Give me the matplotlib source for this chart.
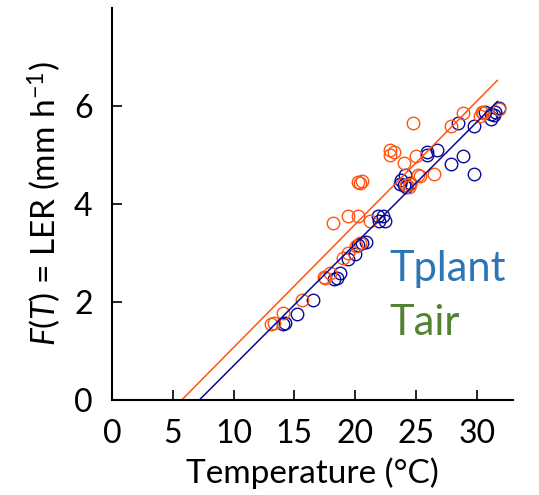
import matplotlib
matplotlib.use('Agg')
import matplotlib.pyplot as plt

plt.rcParams['font.family'] = ['Lato', 'DejaVu Sans']
plt.rcParams['mathtext.fontset'] = 'custom'
plt.rcParams['mathtext.rm'] = 'Lato'
plt.rcParams['mathtext.it'] = 'Lato:italic'

# Tair (orange) points
tair_x = [13.1, 13.3, 14.1, 15.65, 17.4, 17.5, 17.9, 19.0, 19.4, 20.1, 20.4, 18.15,
          19.4, 20.25, 21.2, 20.25, 20.4, 20.55, 22.85, 23.2, 22.85, 24.8, 24.0, 25.0,
          25.2, 25.3, 26.5, 24.2, 24.4, 24.5, 27.85, 28.9, 30.3, 30.4, 30.5, 31.8]
tair_y = [1.55, 1.58, 1.77, 2.04, 2.50, 2.49, 2.60, 2.89, 2.99, 3.15, 3.21, 3.61,
          3.76, 3.76, 3.66, 4.45, 4.43, 4.47, 5.11, 5.07, 5.00, 5.66, 4.83, 4.97,
          4.59, 4.57, 4.61, 4.39, 4.35, 4.41, 5.59, 5.85, 5.80, 5.88, 5.86, 5.93]

# Tplant (navy) points
tplant_x = [14.1, 14.2, 15.2, 16.5, 18.3, 18.5, 18.75, 19.4, 20.0, 20.25, 20.6, 20.9,
            21.9, 22.3, 22.45, 22.0, 24.1, 23.8, 24.0, 24.2, 24.5, 23.7, 25.9, 25.9,
            26.75, 27.9, 28.9, 29.8, 28.5, 29.8, 30.7, 31.2, 31.2, 31.4, 31.8, 31.5]
tplant_y = [1.55, 1.58, 1.76, 2.04, 2.46, 2.48, 2.60, 2.87, 2.98, 3.16, 3.20, 3.22,
            3.76, 3.76, 3.66, 3.66, 4.59, 4.49, 4.39, 4.35, 4.43, 4.41, 5.07, 5.00,
            5.10, 4.82, 4.97, 4.61, 5.66, 5.59, 5.88, 5.84, 5.73, 5.82, 5.95, 5.88]

# fitted lines (end points)
tair_fit_x = [5.73, 31.7]
tair_fit_y = [0.0, 6.52]
tplant_fit_x = [7.18, 31.7]
tplant_fit_y = [0.0, 6.09]

orange = '#ff5512'
navy = '#0a0a9a'

fig = plt.figure(figsize=(5.39, 4.95), dpi=100)
ax = fig.add_axes([0.208, 0.192, 0.744, 0.792])

ax.plot(tplant_x, tplant_y, 'o', mfc='none', mec=navy, ms=9, mew=1.0)
ax.plot(tair_x, tair_y, 'o', mfc='none', mec=orange, ms=9, mew=1.0)
ax.plot(tair_fit_x, tair_fit_y, color=orange, lw=1.1)
ax.plot(tplant_fit_x, tplant_fit_y, color=navy, lw=1.1)

ax.text(22.8, 2.68, 'Tplant', color='#2e75b6', fontsize=30, va='center')
ax.text(22.8, 1.57, 'Tair', color='#548235', fontsize=30, va='center')

ax.set_xlim(0, 33)
ax.set_ylim(0, 8)
ax.set_xticks([0, 5, 10, 15, 20, 25, 30])
ax.set_yticks([0, 2, 4, 6])
ax.spines['top'].set_visible(False)
ax.spines['right'].set_visible(False)
ax.spines['left'].set_linewidth(1.5)
ax.spines['bottom'].set_linewidth(1.5)
ax.tick_params(direction='in', length=7, width=1.2, labelsize=23)
ax.tick_params(axis='x', pad=14)
ax.tick_params(axis='y', pad=14)

ax.set_xlabel('Temperature (°C)', fontsize=24, labelpad=6)
ax.set_ylabel(r'$F(T)$ = LER (mm h$^{-1}$)', fontsize=24, labelpad=8)

plt.savefig('out.png', dpi=100)
